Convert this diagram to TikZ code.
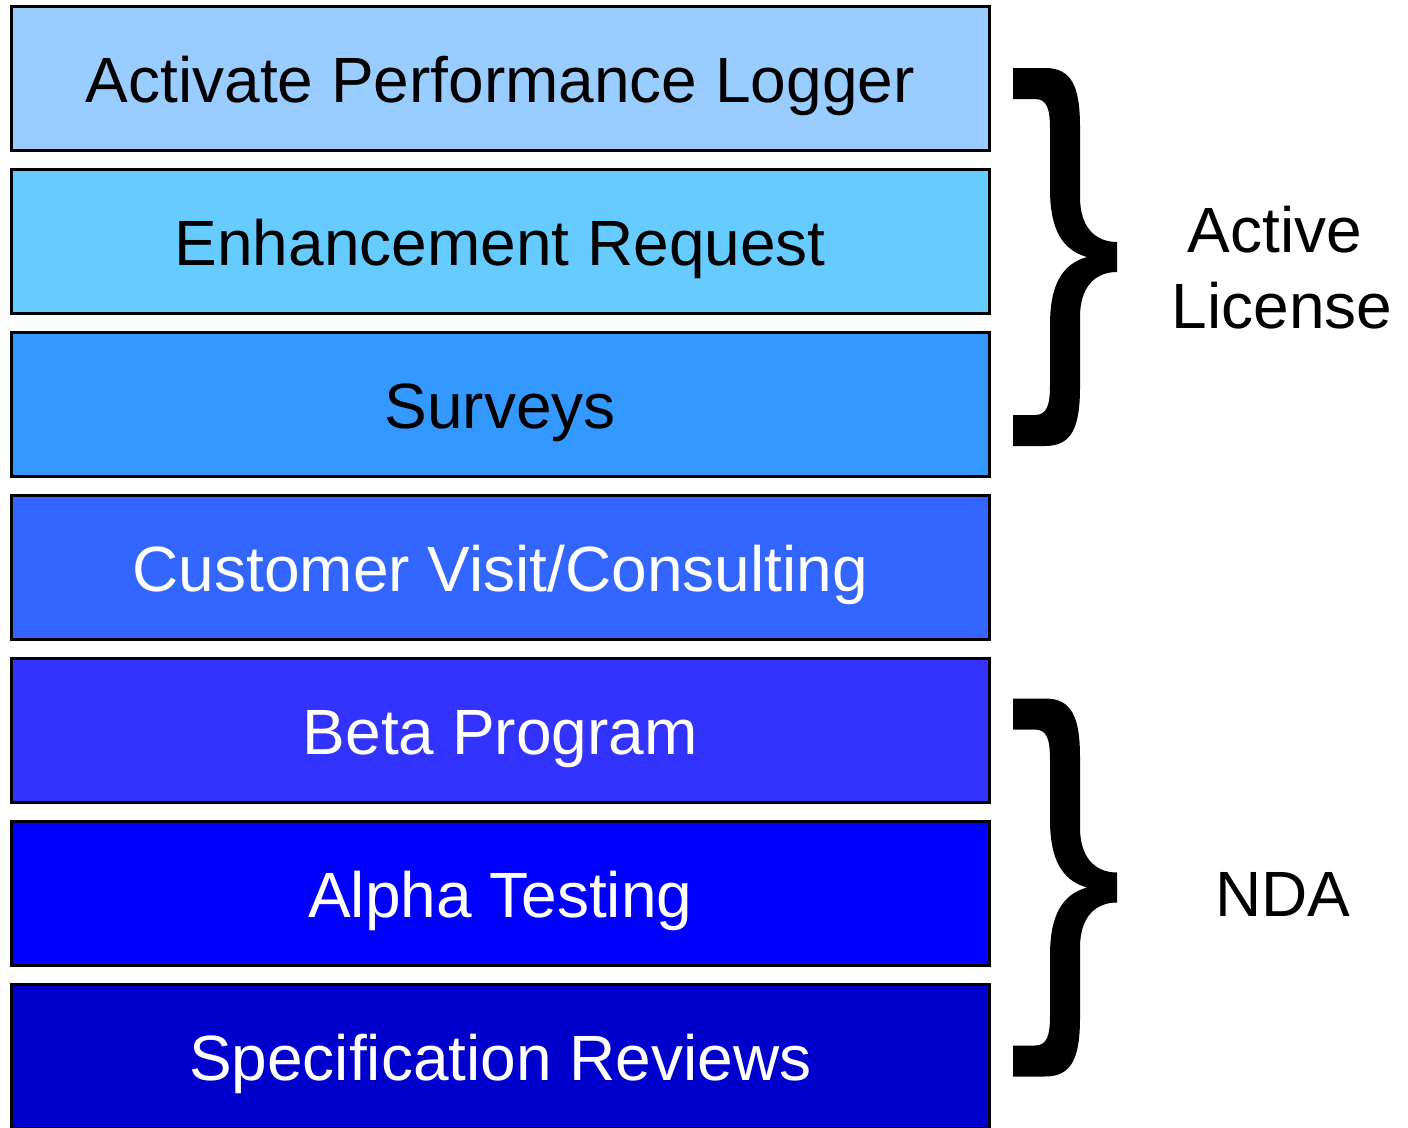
\documentclass[tikz,border=0pt]{standalone}
\usepackage{fontspec}
\setmainfont{Liberation Sans}
\definecolor{c1}{HTML}{99CCFF}
\definecolor{c2}{HTML}{66CCFF}
\definecolor{c3}{HTML}{3399FF}
\definecolor{c4}{HTML}{3366FF}
\definecolor{c5}{HTML}{3333FF}
\definecolor{c6}{HTML}{0000FF}
\definecolor{c7}{HTML}{0000CC}
\begin{document}
\begin{tikzpicture}[x=1pt,y=-1pt,
  bar/.style={draw=black,line width=3pt,minimum width=977.5pt,minimum height=143.5pt,inner sep=0pt,
    text height=47.5pt,text depth=0pt,
    font=\fontsize{64}{76}\selectfont,anchor=center},
  lbl/.style={font=\fontsize{64}{76}\selectfont,align=center,inner sep=0pt},
  curly/.pic={
    \fill[black] (1013,-189) -- (1045,-189) .. controls (1072,-189) and (1080,-170) .. (1080,-130)
      -- (1080,-60) .. controls (1080,-30) and (1095,-15) .. (1117,-15)
      -- (1117,15) .. controls (1095,15) and (1080,30) .. (1080,60)
      -- (1080,130) .. controls (1080,170) and (1072,189) .. (1045,189)
      -- (1013,189) -- (1013,158) -- (1035,158) .. controls (1047,158) and (1050,148) .. (1050,128)
      -- (1050,68) .. controls (1050,28) and (1062,7) .. (1087,0)
      .. controls (1062,-7) and (1050,-28) .. (1050,-68)
      -- (1050,-128) .. controls (1050,-148) and (1047,-158) .. (1035,-158)
      -- (1013,-158) -- cycle;
  }]
\useasboundingbox (0,0) rectangle (1408,1127);
\clip (0,0) rectangle (1408,1127);
\node[bar,fill=c1,text=black] (r1) at (500.25,78.25) {Activate Performance Logger};
\node[bar,fill=c2,text=black] (r2) at (500.25,241.25) {Enhancement Request};
\node[bar,fill=c3,text=black] (r3) at (500.25,404.25) {Surveys};
\node[bar,fill=c4,text=white] (r4) at (500.25,567.25) {Customer Visit/Consulting};
\node[bar,fill=c5,text=white] (r5) at (500.25,730.25) {Beta Program};
\node[bar,fill=c6,text=white] (r6) at (500.25,893.25) {Alpha Testing};
\node[bar,fill=c7,text=white] (r7) at (500.25,1056.25) {Specification Reviews};
\pic at (0,257) {curly};
\pic at (0,887.5) {curly};
\node[lbl] (al) at (1282,268) {Active\kern14pt\\License};
\node[lbl] (nda) at (1283,894) {NDA};
\end{tikzpicture}
\end{document}
